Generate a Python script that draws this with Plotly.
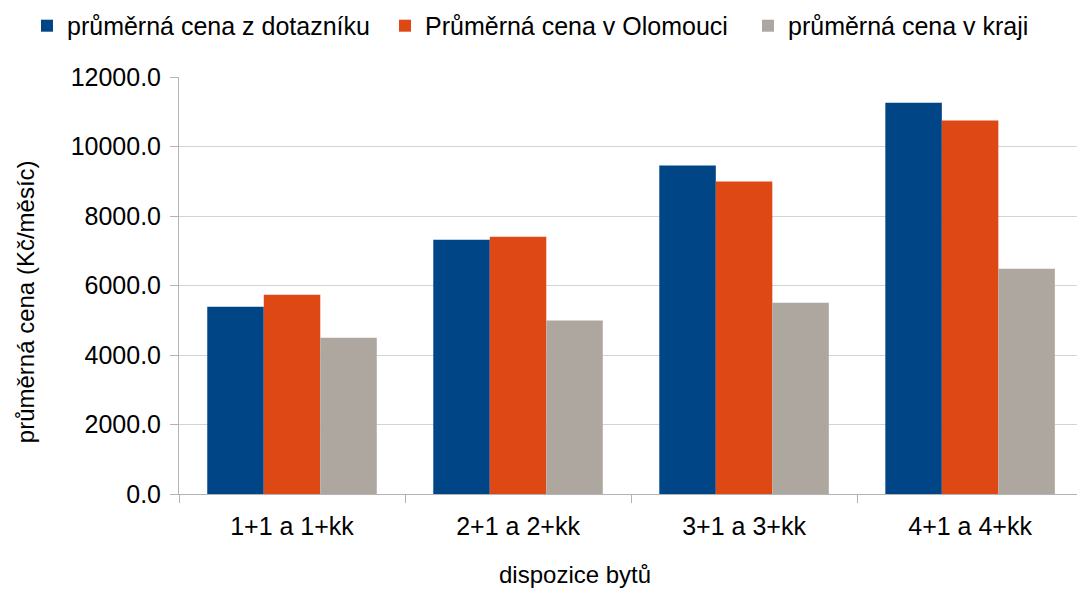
import plotly.graph_objects as go

# Average monthly rent by flat layout
categories = ["1+1 a 1+kk", "2+1 a 2+kk", "3+1 a 3+kk", "4+1 a 4+kk"]
survey_avg = [5390, 7320, 9450, 11260]
olomouc_avg = [5735, 7405, 8990, 10745]
region_avg = [4500, 4990, 5505, 6485]

series_names = [
    "průměrná cena z dotazníku",
    "Průměrná cena v Olomouci",
    "průměrná cena v kraji",
]
series_colors = ["#004586", "#dd4814", "#aea79f"]

x_title = "dispozice bytů"
y_title = "průměrná cena (Kč/měsíc)"

FONT = "Liberation Sans, Arial, sans-serif"
AXIS_GREY = "#b3b3b3"
GRID_GREY = "#d4d4d4"

# one legend box per series so the three entries sit in a single row
legend_ids = ["legend", "legend2", "legend3"]
legend_left_px = [27, 385, 748]

fig = go.Figure()
for name, vals, color, lid in zip(series_names, [survey_avg, olomouc_avg, region_avg], series_colors, legend_ids):
    fig.add_trace(go.Bar(x=categories, y=vals, name=name, marker_color=color,
                         marker_line_width=0, legend=lid))

W, H = 1077, 590
legend_layouts = {
    lid: dict(
        orientation="h",
        xref="container",
        yref="container",
        x=px / W,
        y=0.995,
        xanchor="left",
        yanchor="top",
        font=dict(size=25),
        itemwidth=30,
        bgcolor="rgba(0,0,0,0)",
    )
    for lid, px in zip(legend_ids, legend_left_px)
}

fig.update_layout(
    width=W,
    height=H,
    barmode="group",
    bargap=0.25,
    bargroupgap=0,
    plot_bgcolor="white",
    paper_bgcolor="white",
    font=dict(family=FONT, size=25, color="#000000"),
    margin=dict(l=179, r=0, t=77, b=96, autoexpand=False),
    showlegend=True,
    xaxis=dict(
        range=[-0.5, 3.473],
        showline=True,
        linecolor=AXIS_GREY,
        linewidth=1,
        ticks="outside",
        tickson="boundaries",
        ticklen=8,
        tickcolor=AXIS_GREY,
        ticklabelstandoff=10,
        showgrid=False,
        tickfont=dict(size=25),
    ),
    yaxis=dict(
        range=[0, 12000],
        dtick=2000,
        tickformat=".1f",
        showline=True,
        linecolor=AXIS_GREY,
        linewidth=1,
        ticks="outside",
        ticklen=8,
        tickcolor=AXIS_GREY,
        ticklabelstandoff=4,
        showgrid=True,
        gridcolor=GRID_GREY,
        gridwidth=1,
        zeroline=False,
        tickfont=dict(size=25),
    ),
    annotations=[
        dict(
            text=x_title,
            xref="paper",
            yref="paper",
            x=0.441,
            y=-0.194,
            xanchor="center",
            yanchor="middle",
            showarrow=False,
            font=dict(size=24),
        ),
        dict(
            text=y_title,
            xref="paper",
            yref="paper",
            x=-0.171,
            y=0.461,
            xanchor="center",
            yanchor="middle",
            textangle=-90,
            showarrow=False,
            font=dict(size=24),
        ),
    ],
    **legend_layouts,
)

fig.write_html("out.html")
